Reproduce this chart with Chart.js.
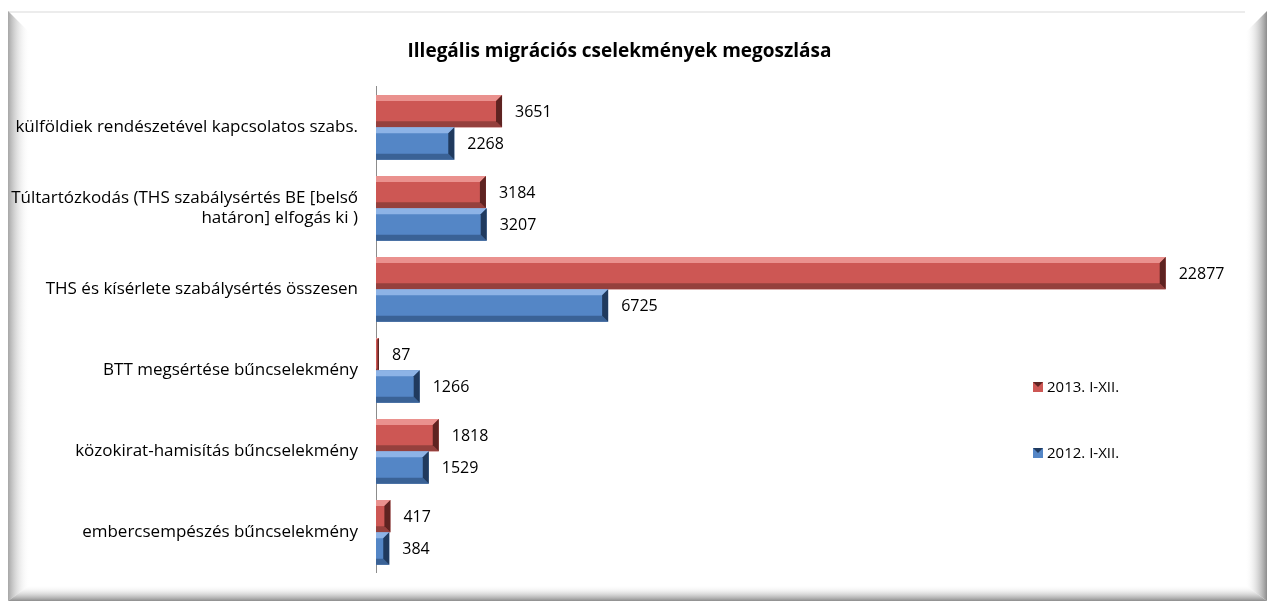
<!DOCTYPE html>
<html>
<head>
<meta charset="utf-8">
<script src="https://cdn.jsdelivr.net/npm/chart.js@4/dist/chart.umd.min.js"></script>
<style>
  html, body { margin: 0; padding: 0; background: #fff; }
  #wrap { width: 1267px; height: 601px; }
</style>
</head>
<body>
<div id="wrap"><canvas id="migChart"></canvas></div>
<script>
const categories = [
    'külföldiek rendészetével kapcsolatos szabs.',
    ['Túltartózkodás (THS szabálysértés BE [belső', 'határon] elfogás ki )'],
    'THS és kísérlete szabálysértés összesen',
    'BTT megsértése bűncselekmény',
    'közokirat-hamisítás bűncselekmény',
    'embercsempészés bűncselekmény'
];
const seriesNames = ['2013. I-XII.', '2012. I-XII.'];
const values2013 = [3651, 3184, 22877, 87, 1818, 417];
const values2012 = [2268, 3207, 6725, 1266, 1529, 384];

const FONT = '"Open Sans", Lato, sans-serif';

// bar colours: main, highlight, shadow, edge
const palette = [
    { main: '#CD5754', light: '#EA918E', dark: '#95403D', edge: '#5E2321' },
    { main: '#5486C6', light: '#8DB3E6', dark: '#3A6296', edge: '#203A5E' }
];

// grey bevelled frame round the chart
const framePlugin = {
    id: 'frame',
    beforeDraw(chart) {
        const ctx = chart.ctx;
        const W = chart.width, H = chart.height;
        const L = 8, T = 11, R = W, B = H;
        const bw = 22, bb = 16;
        ctx.save();
        ctx.fillStyle = '#fff';
        ctx.fillRect(0, 0, W, H);
        ctx.fillStyle = '#ececec';
        ctx.fillRect(L, T, R - L - bw, 2);
        let g = ctx.createLinearGradient(L, 0, L + bw, 0);
        g.addColorStop(0, '#a6a6a6');
        g.addColorStop(1, 'rgba(255,255,255,0)');
        ctx.fillStyle = g;
        ctx.beginPath();
        ctx.moveTo(L, T); ctx.lineTo(L + bw, T + bw); ctx.lineTo(L + bw, B - bb); ctx.lineTo(L, B);
        ctx.closePath(); ctx.fill();
        g = ctx.createLinearGradient(R - bw, 0, R, 0);
        g.addColorStop(0, 'rgba(255,255,255,0)');
        g.addColorStop(1, '#8c8c8c');
        ctx.fillStyle = g;
        ctx.beginPath();
        ctx.moveTo(R, T); ctx.lineTo(R - bw, T + bw); ctx.lineTo(R - bw, B - bb); ctx.lineTo(R, B);
        ctx.closePath(); ctx.fill();
        g = ctx.createLinearGradient(0, B - bb, 0, B);
        g.addColorStop(0, 'rgba(255,255,255,0)');
        g.addColorStop(1, '#8c8c8c');
        ctx.fillStyle = g;
        ctx.beginPath();
        ctx.moveTo(L, B); ctx.lineTo(L + bw, B - bb); ctx.lineTo(R - bw, B - bb); ctx.lineTo(R, B);
        ctx.closePath(); ctx.fill();
        ctx.restore();
    }
};

// bevel on each bar + value labels at the end
const barDecorPlugin = {
    id: 'barDecor',
    afterDatasetsDraw(chart) {
        const ctx = chart.ctx;
        ctx.save();
        chart.data.datasets.forEach((ds, di) => {
            const meta = chart.getDatasetMeta(di);
            const col = palette[di];
            meta.data.forEach((bar, i) => {
                const p = bar.getProps(['x', 'y', 'base', 'height'], true);
                const x0 = p.base, x1 = p.x;
                const t = p.y - p.height / 2, bt = p.y + p.height / 2;
                const b = Math.min(6, (x1 - x0) / 2);
                ctx.fillStyle = col.light;
                ctx.beginPath();
                ctx.moveTo(x0, t); ctx.lineTo(x1, t); ctx.lineTo(x1 - b, t + b); ctx.lineTo(x0, t + b);
                ctx.closePath(); ctx.fill();
                ctx.fillStyle = col.dark;
                ctx.beginPath();
                ctx.moveTo(x0, bt); ctx.lineTo(x1, bt); ctx.lineTo(x1 - b, bt - b); ctx.lineTo(x0, bt - b);
                ctx.closePath(); ctx.fill();
                ctx.fillStyle = col.edge;
                ctx.beginPath();
                ctx.moveTo(x1, t); ctx.lineTo(x1, bt); ctx.lineTo(x1 - b, bt - b); ctx.lineTo(x1 - b, t + b);
                ctx.closePath(); ctx.fill();

                ctx.fillStyle = '#000';
                ctx.font = '16px ' + FONT;
                ctx.textAlign = 'left';
                ctx.textBaseline = 'middle';
                ctx.fillText(String(ds.data[i]), x1 + 13, p.y + 1);
            });
        });
        ctx.restore();
    }
};

// legend placed inside the plot on the right, as in the original
const sideLegendPlugin = {
    id: 'sideLegend',
    afterDraw(chart) {
        const ctx = chart.ctx;
        const lx = 1033, ys = [387, 453];
        ctx.save();
        chart.data.datasets.forEach((ds, di) => {
            const col = palette[di];
            const y = ys[di];
            ctx.fillStyle = col.main;
            ctx.fillRect(lx, y - 5, 10, 10);
            ctx.fillStyle = col.edge;
            ctx.beginPath();
            ctx.moveTo(lx, y - 5); ctx.lineTo(lx + 5, y); ctx.lineTo(lx + 10, y - 5);
            ctx.closePath(); ctx.fill();
            ctx.fillStyle = '#000';
            ctx.font = '15px ' + FONT;
            ctx.textAlign = 'left';
            ctx.textBaseline = 'middle';
            ctx.fillText(ds.label, lx + 14, y + 1);
        });
        ctx.restore();
    }
};

new Chart(document.getElementById('migChart'), {
    type: 'bar',
    data: {
        labels: categories,
        datasets: [
            {
                label: seriesNames[0],
                data: values2013,
                backgroundColor: palette[0].main,
                borderWidth: 0
            },
            {
                label: seriesNames[1],
                data: values2012,
                backgroundColor: palette[1].main,
                borderWidth: 0
            }
        ]
    },
    options: {
        indexAxis: 'y',
        responsive: true,
        maintainAspectRatio: false,
        animation: false,
        layout: { padding: { top: 0, right: 28, bottom: 19, left: 0 } },
        datasets: { bar: { categoryPercentage: 0.8, barPercentage: 1 } },
        plugins: {
            legend: { display: false },
            tooltip: { enabled: false },
            title: {
                display: true,
                text: 'Illegális migrációs cselekmények megoszlása',
                color: '#000',
                font: { family: FONT, size: 19, weight: 'bold' },
                padding: { top: 40, bottom: 24 }
            }
        },
        scales: {
            x: {
                display: false,
                min: 0,
                max: 25000
            },
            y: {
                grid: { display: false, drawTicks: false },
                border: { display: true, color: '#8c8c8c', width: 1 },
                ticks: {
                    color: '#000',
                    font: { family: FONT, size: 17 },
                    padding: 18,
                    crossAlign: 'near'
                },
                afterFit(scale) { scale.width = 376; }
            }
        }
    },
    plugins: [framePlugin, barDecorPlugin, sideLegendPlugin]
});
</script>
</body>
</html>
